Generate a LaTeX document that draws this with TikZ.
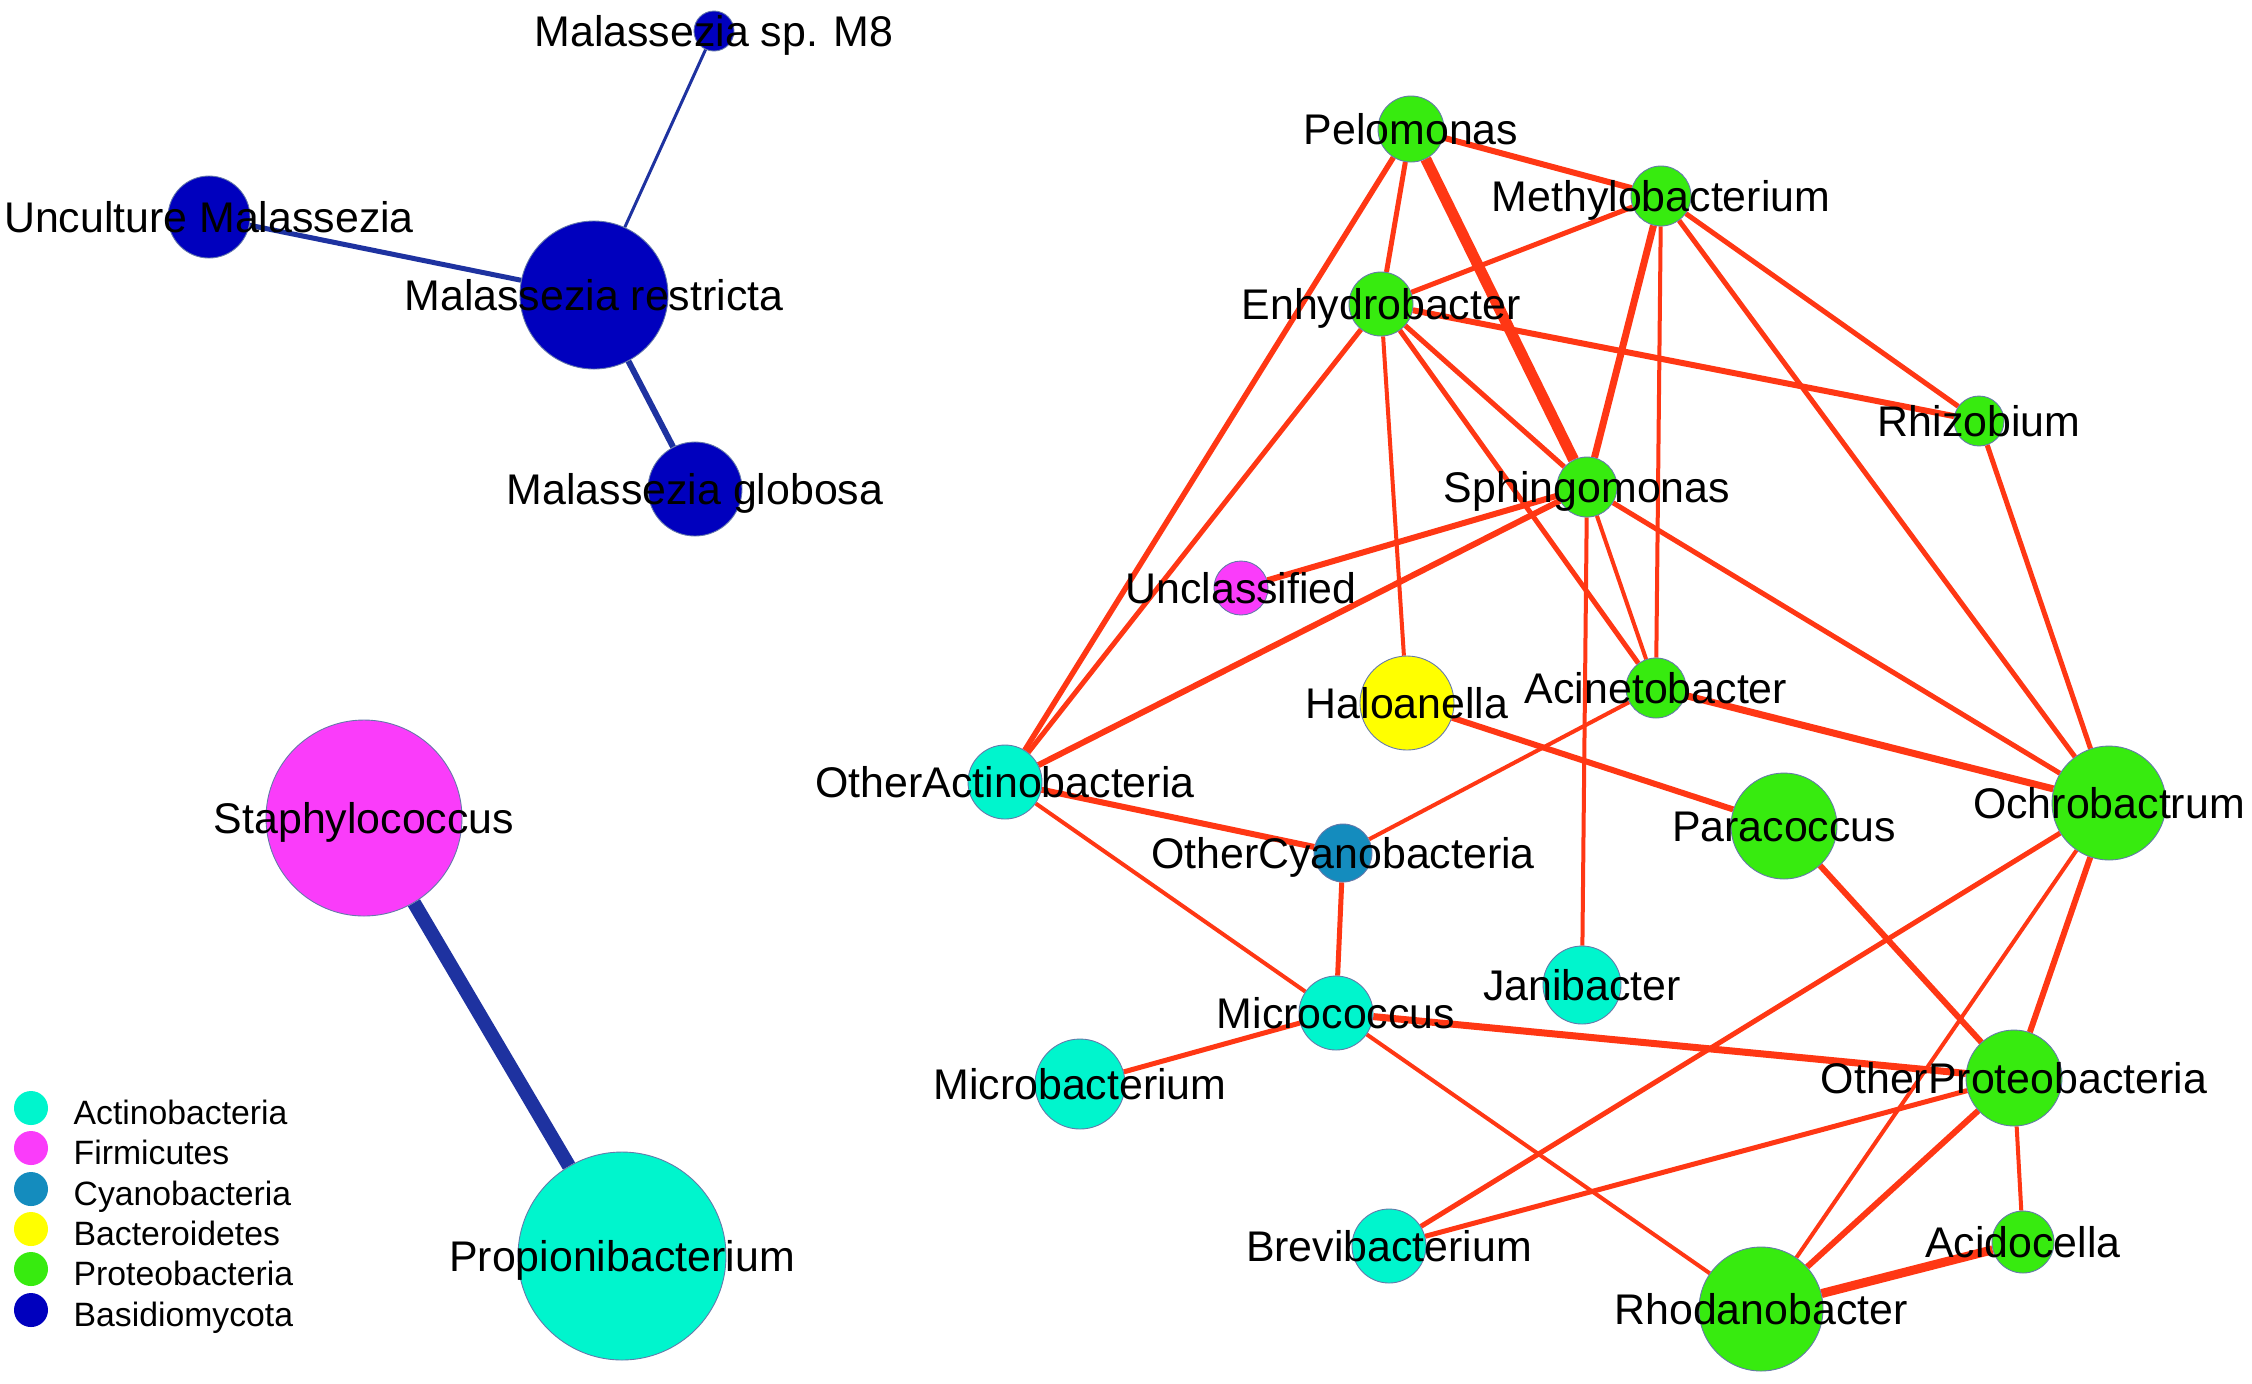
\documentclass[tikz,border=0pt]{standalone}
\usepackage{fontspec}
\setmainfont{Liberation Sans}
\usetikzlibrary{calc}
\pgfdeclarelayer{bg}
\pgfsetlayers{bg,main}
\definecolor{actc}{RGB}{0,245,205}
\definecolor{firc}{RGB}{250,60,250}
\definecolor{cyac}{RGB}{20,140,190}
\definecolor{bacc}{RGB}{255,255,0}
\definecolor{proc}{RGB}{55,235,15}
\definecolor{basc}{RGB}{0,0,190}
\definecolor{edr}{RGB}{255,55,20}
\definecolor{edb}{RGB}{30,50,160}
\definecolor{rim}{RGB}{100,120,170}
\begin{document}
\begin{tikzpicture}[x=0.1mm,y=-0.1mm,
  nd/.style={circle,inner sep=0pt,draw=rim,line width=0.25pt,minimum size=#1*0.2mm},
  act/.style={nd=#1,fill=actc},
  fir/.style={nd=#1,fill=firc},
  cya/.style={nd=#1,fill=cyac},
  bac/.style={nd=#1,fill=bacc},
  pro/.style={nd=#1,fill=proc},
  bas/.style={nd=#1,fill=basc},
  lab/.style={anchor=base,inner sep=0pt,font=\fontsize{12.2}{14}\selectfont},
  leglab/.style={anchor=base west,inner sep=0pt,font=\fontsize{9.6}{11}\selectfont},
  er/.style={draw=edr,line width=#1*0.1mm},
  eb/.style={draw=edb,line width=#1*0.1mm},
]
\useasboundingbox (0,0) rectangle (2252,1383);

% fungi
\node[bas=20] (m8) at (714,31) {};
\node[bas=41] (unm) at (209,217) {};
\node[bas=74] (mre) at (594,295) {};
\node[bas=47] (mgl) at (695,489) {};
% staph / propi
\node[fir=98] (sta) at (364,818) {};
\node[act=104] (prp) at (622,1256) {};
% right network
\node[pro=33] (pel) at (1411,129) {};
\node[pro=30] (met) at (1661,196) {};
\node[pro=32] (enh) at (1381,304) {};
\node[pro=25] (rhi) at (1979,421) {};
\node[pro=30] (sph) at (1587,487) {};
\node[fir=27] (unc) at (1241,588) {};
\node[bac=47] (hal) at (1407,703) {};
\node[pro=30] (aci) at (1656,688) {};
\node[act=37] (oac) at (1005,782) {};
\node[pro=53] (par) at (1784,826) {};
\node[pro=57] (och) at (2109,803) {};
\node[cya=29] (ocy) at (1343,853) {};
\node[act=39] (jan) at (1582,985) {};
\node[act=37] (mcc) at (1336,1013) {};
\node[act=45] (mbc) at (1080,1084) {};
\node[pro=48] (opr) at (2014,1078) {};
\node[act=37] (bre) at (1389,1246) {};
\node[pro=31] (acd) at (2023,1242) {};
\node[pro=62] (rho) at (1761,1309) {};

\begin{pgfonlayer}{bg}
\fill[white] (0,0) rectangle (2252,1383);
\draw[eb=3] (m8) -- (mre);
\draw[eb=5] (unm) -- (mre);
\draw[eb=6] (mre) -- (mgl);
\draw[eb=14] (sta) -- (prp);
\draw[er=11] (pel) -- (sph);
\draw[er=6] (pel) -- (met);
\draw[er=5] (pel) -- (enh);
\draw[er=5.5] (pel) -- (oac);
\draw[er=5] (met) -- (enh);
\draw[er=7] (met) -- (sph);
\draw[er=4] (met) -- (aci);
\draw[er=5] (met) -- (och);
\draw[er=5] (met) -- (rhi);
\draw[er=6] (enh) -- (rhi);
\draw[er=5] (enh) -- (oac);
\draw[er=4] (enh) -- (hal);
\draw[er=5] (enh) -- (aci);
\draw[er=5] (enh) -- (sph);
\draw[er=6] (sph) -- (unc);
\draw[er=6] (sph) -- (oac);
\draw[er=4] (sph) -- (aci);
\draw[er=4] (sph) -- (jan);
\draw[er=5] (sph) -- (och);
\draw[er=5] (rhi) -- (och);
\draw[er=7] (aci) -- (och);
\draw[er=4] (aci) -- (ocy);
\draw[er=6] (hal) -- (par);
\draw[er=6] (oac) -- (ocy);
\draw[er=4] (oac) -- (mcc);
\draw[er=5] (ocy) -- (mcc);
\draw[er=5] (mcc) -- (mbc);
\draw[er=7] (mcc) -- (opr);
\draw[er=4] (mcc) -- (rho);
\draw[er=6] (par) -- (opr);
\draw[er=6] (och) -- (opr);
\draw[er=5] (och) -- (bre);
\draw[er=4] (och) -- (rho);
\draw[er=5] (opr) -- (bre);
\draw[er=6] (opr) -- (rho);
\draw[er=4] (opr) -- (acd);
\draw[er=9] (acd) -- (rho);
\end{pgfonlayer}

% labels
\node[lab] (m8L) at ($(m8)+(0,15.4)$) {Malassezia sp. M8};
\node[lab] (unmL) at ($(unm)+(0,15.4)$) {Unculture Malassezia};
\node[lab] (mreL) at ($(mre)+(0,15.4)$) {Malassezia restricta};
\node[lab] (mglL) at ($(mgl)+(0,15.4)$) {Malassezia globosa};
\node[lab] (staL) at ($(sta)+(0,15.4)$) {Staphylococcus};
\node[lab] (prpL) at ($(prp)+(0,15.4)$) {Propionibacterium};
\node[lab] (pelL) at ($(pel)+(0,15.4)$) {Pelomonas};
\node[lab] (metL) at ($(met)+(0,15.4)$) {Methylobacterium};
\node[lab] (enhL) at ($(enh)+(0,15.4)$) {Enhydrobacter};
\node[lab] (rhiL) at ($(rhi)+(0,15.4)$) {Rhizobium};
\node[lab] (sphL) at ($(sph)+(0,15.4)$) {Sphingomonas};
\node[lab] (uncL) at ($(unc)+(0,15.4)$) {Unclassified};
\node[lab] (halL) at ($(hal)+(0,15.4)$) {Haloanella};
\node[lab] (aciL) at ($(aci)+(0,15.4)$) {Acinetobacter};
\node[lab] (oacL) at ($(oac)+(0,15.4)$) {OtherActinobacteria};
\node[lab] (parL) at ($(par)+(0,15.4)$) {Paracoccus};
\node[lab] (ochL) at ($(och)+(0,15.4)$) {Ochrobactrum};
\node[lab] (ocyL) at ($(ocy)+(0,15.4)$) {OtherCyanobacteria};
\node[lab] (janL) at ($(jan)+(0,15.4)$) {Janibacter};
\node[lab] (mccL) at ($(mcc)+(0,15.4)$) {Micrococcus};
\node[lab] (mbcL) at ($(mbc)+(0,15.4)$) {Microbacterium};
\node[lab] (oprL) at ($(opr)+(0,15.4)$) {OtherProteobacteria};
\node[lab] (breL) at ($(bre)+(0,15.4)$) {Brevibacterium};
\node[lab] (acdL) at ($(acd)+(0,15.4)$) {Acidocella};
\node[lab] (rhoL) at ($(rho)+(0,15.4)$) {Rhodanobacter};

% legend
\node[circle,inner sep=0pt,minimum size=3.4mm,fill=actc] (lg1) at (31,1108) {};
\node[circle,inner sep=0pt,minimum size=3.4mm,fill=firc] (lg2) at (31,1148) {};
\node[circle,inner sep=0pt,minimum size=3.4mm,fill=cyac] (lg3) at (31,1189) {};
\node[circle,inner sep=0pt,minimum size=3.4mm,fill=bacc] (lg4) at (31,1229) {};
\node[circle,inner sep=0pt,minimum size=3.4mm,fill=proc] (lg5) at (31,1269) {};
\node[circle,inner sep=0pt,minimum size=3.4mm,fill=basc] (lg6) at (31,1310) {};
\node[leglab] (lt1) at (73,1124) {Actinobacteria};
\node[leglab] (lt2) at (73,1164) {Firmicutes};
\node[leglab] (lt3) at (73,1205) {Cyanobacteria};
\node[leglab] (lt4) at (73,1245) {Bacteroidetes};
\node[leglab] (lt5) at (73,1285) {Proteobacteria};
\node[leglab] (lt6) at (73,1326) {Basidiomycota};
\end{tikzpicture}
\end{document}
